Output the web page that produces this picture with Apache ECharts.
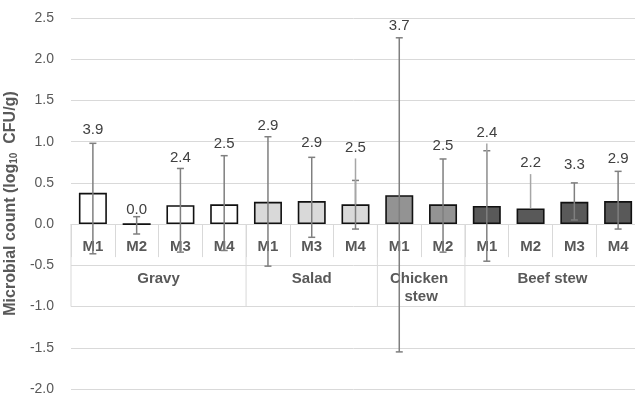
<!DOCTYPE html>
<html>
<head>
<meta charset="utf-8">
<script src="https://cdn.jsdelivr.net/npm/echarts@6/dist/echarts.min.js"></script>
<style>html,body{margin:0;padding:0;background:#fff}#c{width:635px;height:394px}</style>
</head>
<body>
<div id="c"></div>
<script>
// ---- data ----
const groups = ['Gravy', 'Salad', 'Chicken stew', 'Beef stew'];
const groupSizes = [4, 3, 2, 4];
const methods = ['M1','M2','M3','M4','M1','M3','M4','M1','M2','M1','M2','M3','M4'];
const meanValues = [0.38, 0.00, 0.23, 0.24, 0.27, 0.28, 0.24, 0.35, 0.24, 0.22, 0.19, 0.27, 0.28];
const errLow  = [-0.36, -0.12, -0.34, -0.32, -0.51, -0.16, -0.06, -1.55, -0.34, -0.45, 0.19, 0.05, -0.06];
const errHigh = [0.98, 0.09, 0.675, 0.83, 1.06, 0.81, 0.53, 2.26, 0.79, 0.89, 0.19, 0.50, 0.64];
const labelText = ['3.9','0.0','2.4','2.5','2.9','2.9','2.5','3.7','2.5','2.4','2.2','3.3','2.9'];
const labelAt = [1.14, 0.17, 0.80, 0.97, 1.19, 0.98, 0.93, 2.41, 0.95, 1.11, 0.74, 0.72, 0.79];
const hasLeader = [false,false,false,false,false,false,true,false,false,true,true,false,false];
const yTicks = { min: -2.0, max: 2.5, step: 0.5 };

// ---- styles ----
const groupColors = ['#ffffff', '#d9d9d9', '#939393', '#595959'];
const FONT = '"Liberation Sans", Arial, sans-serif';
const gridColor = '#d9d9d9';
const textColor = '#595959';

const groupOfIndex = [];
const groupStarts = [];
let acc = 0;
groupSizes.forEach((n, g) => { groupStarts.push(acc); for (let k = 0; k < n; k++) groupOfIndex.push(g); acc += n; });

const chart = echarts.init(document.getElementById('c'));
chart.setOption({
  animation: false,
  grid: { left: 71, top: 18, width: 569, height: 371, containLabel: false, outerBoundsMode: 'none' },
  xAxis: {
    type: 'category',
    data: methods,
    axisLine: { onZero: true, lineStyle: { color: gridColor, width: 1 } },
    axisTick: { show: true, length: 33, interval: 0, lineStyle: { color: gridColor } },
    axisLabel: { show: false },
    splitLine: { show: false }
  },
  yAxis: {
    type: 'value',
    min: yTicks.min, max: yTicks.max, interval: yTicks.step,
    axisLine: { show: false },
    axisTick: { show: false },
    axisLabel: { margin: 17, fontSize: 14, color: textColor, fontFamily: FONT,
      formatter: v => v.toFixed(1) },
    splitLine: { lineStyle: { color: gridColor, width: 1 } },
    name: '{a|Microbial count (log}{s|10}{a|  CFU/g)}',
    nameLocation: 'middle',
    nameGap: 44,
    nameTextStyle: {
      rich: {
        a: { fontSize: 16, fontWeight: 'bold', color: textColor, fontFamily: FONT },
        s: { fontSize: 10, fontWeight: 'bold', color: textColor, fontFamily: FONT, padding: [7, 0, 0, 0] }
      }
    }
  },
  series: [
    {
      type: 'bar',
      barWidth: 28,
      z: 2,
      data: meanValues.map((v, i) => ({
        value: v,
        itemStyle: { color: groupColors[groupOfIndex[i]], borderColor: '#111111', borderWidth: 1.6 }
      }))
    },
    {
      // method row of the category table
      type: 'custom',
      z: 1,
      silent: true,
      data: methods.map((m, i) => [i, 0]),
      encode: { x: 0, y: 1 },
      renderItem: (params, api) => {
        const p = api.coord([api.value(0), 0]);
        return { type: 'text', style: { text: methods[params.dataIndex], x: p[0], y: p[1] + 23,
          align: 'center', verticalAlign: 'middle', fontSize: 15, fontWeight: 'bold', fontFamily: FONT, fill: textColor } };
      }
    },
    {
      // group row of the category table
      type: 'custom',
      z: 1,
      silent: true,
      data: groups.map((g, k) => [groupStarts[k], groupSizes[k], -1]),
      encode: { x: 0, y: 2 },
      renderItem: (params, api) => {
        const start = api.value(0), n = api.value(1);
        const band = api.size([1, 0])[0];
        const x0 = api.coord([start, 0])[0] - band / 2;
        const x1 = x0 + band * n;
        const yTop = api.coord([start, 0])[1];
        const yRow = api.coord([start, -0.5])[1];
        const yBot = api.coord([start, -1.0])[1];
        const children = [
          { type: 'line', shape: { x1: x1, y1: yTop, x2: x1, y2: yBot }, style: { stroke: gridColor, lineWidth: 1 } },
          { type: 'text', style: { text: groups[params.dataIndex], x: (x0 + x1) / 2, y: yRow + 5,
              align: 'center', verticalAlign: 'top', width: band * n - 6, overflow: 'break', lineHeight: 18,
              fontSize: 15, fontWeight: 'bold', fontFamily: FONT, fill: textColor } }
        ];
        if (params.dataIndex === 0) {
          children.push({ type: 'line', shape: { x1: x0, y1: yTop, x2: x0, y2: yBot }, style: { stroke: gridColor, lineWidth: 1 } });
        }
        return { type: 'group', children };
      }
    },
    {
      // error bars
      type: 'custom',
      z: 5,
      silent: true,
      data: meanValues.map((v, i) => [i, errLow[i], errHigh[i]]),
      encode: { x: 0, y: [1, 2] },
      renderItem: (params, api) => {
        const i = api.value(0);
        const lo = api.coord([i, api.value(1)]);
        const hi = api.coord([i, api.value(2)]);
        if (Math.abs(lo[1] - hi[1]) < 0.5) return { type: 'group', children: [] };
        const cap = 3.5;
        const st = { stroke: '#7f7f7f', lineWidth: 1.5 };
        return { type: 'group', children: [
          { type: 'line', shape: { x1: hi[0], y1: hi[1], x2: lo[0], y2: lo[1] }, style: st },
          { type: 'line', shape: { x1: hi[0] - cap, y1: hi[1], x2: hi[0] + cap, y2: hi[1] }, style: st },
          { type: 'line', shape: { x1: lo[0] - cap, y1: lo[1], x2: lo[0] + cap, y2: lo[1] }, style: st }
        ] };
      }
    },
    {
      // data labels with leader lines
      type: 'custom',
      z: 6,
      silent: true,
      data: meanValues.map((v, i) => [i, labelAt[i], v]),
      encode: { x: 0, y: 1 },
      renderItem: (params, api) => {
        const i = api.value(0);
        const p = api.coord([i, api.value(1)]);
        const top = api.coord([i, api.value(2)]);
        const children = [
          { type: 'text', style: { text: labelText[params.dataIndex], x: p[0], y: p[1], align: 'center', verticalAlign: 'middle',
              fontSize: 15, fontFamily: FONT, fill: '#404040' } }
        ];
        if (hasLeader[params.dataIndex]) {
          children.push({ type: 'line', shape: { x1: p[0], y1: p[1] + 11, x2: top[0], y2: top[1] },
            style: { stroke: '#a6a6a6', lineWidth: 1.5 } });
        }
        return { type: 'group', children };
      }
    }
  ]
});
</script>
</body>
</html>
